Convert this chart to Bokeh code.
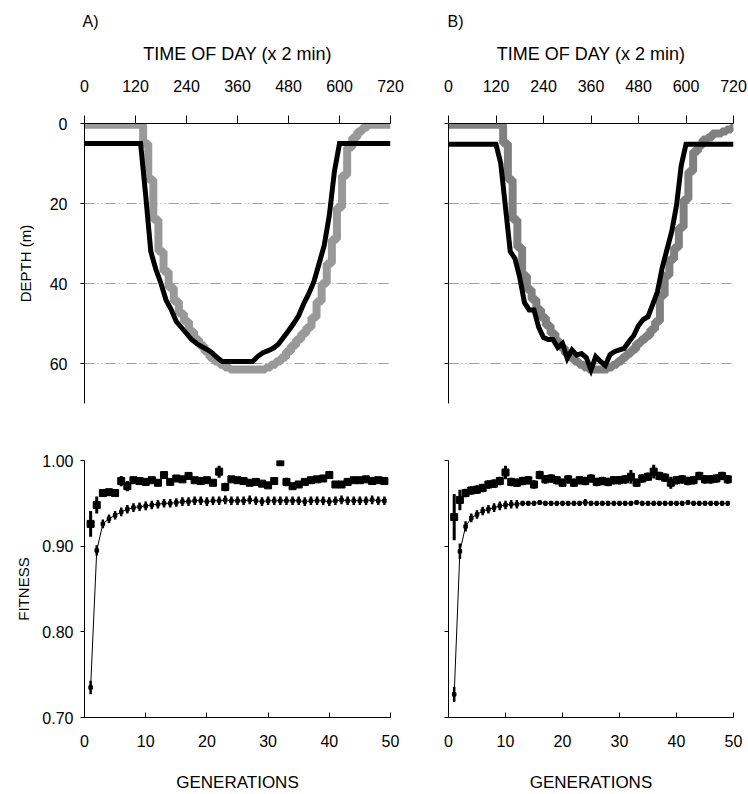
from bokeh.plotting import figure
from bokeh.layouts import column, row
from bokeh.models import FixedTicker, Range1d, PrintfTickFormatter
from bokeh.embed import file_html
from bokeh.resources import INLINE

# ---------------- data ----------------
time_ticks = [0, 120, 240, 360, 480, 600, 720]
depth_ticks = [0, 20, 40, 60]
time_of_day = list(range(0, 721, 12))  # sample times (x 2 min)

depth_best_A = [5, 5, 5, 5, 5, 5, 5, 5, 5, 5, 5, 5,
                18, 32, 36.5, 40, 44.2, 46.5, 49.5, 51, 52.5, 54,
                55, 55.8, 56.5, 57.3, 58.5, 59.5, 59.5, 59.5, 59.5, 59.5,
                59.5, 59.5, 58.2, 57.3, 56.8, 56.2, 55.2, 53.5, 51.8, 50,
                48, 45, 42.5, 39.5, 35, 30.5, 23, 12,
                5, 5, 5, 5, 5, 5, 5, 5, 5, 5, 5]
depth_pop_A = [0.3, 0.3, 0.3, 0.3, 0.3, 0.3, 0.3, 0.3, 0.3, 0.3, 0.3, 0.3,
               5, 14, 24, 32, 37, 41, 44.5, 47.5, 49.5, 52,
               54, 55.5, 57, 58.5, 59.5, 60.3, 61, 61.5, 61.5, 61.5,
               61.5, 61.5, 61.5, 61.5, 61, 60.3, 59.5, 58.5, 57, 55.5,
               54, 52.5, 51, 48.5, 44.5, 40, 35, 29, 21, 13,
               6, 3.5, 2, 1, 0.3, 0.3, 0.3, 0.3, 0.3]

depth_best_B = [5.2, 5.2, 5.2, 5.2, 5.2, 5.2, 5.2, 5.2, 5.2, 5.2, 5.2,
                10, 21, 32, 33.8, 38.5, 44.8, 46.6, 46.6, 51, 53.5,
                54, 54, 56, 55, 58.7, 56.6, 57.9, 57.5, 58.5, 61.6,
                58.3, 59.5, 60.5, 57.8, 57, 56.6, 56.2, 54.5, 53, 50.5,
                49, 48.3, 45.2, 42, 36, 31.5, 27, 20.5, 10.5,
                5.2, 5.2, 5.2, 5.2, 5.2, 5.2, 5.2, 5.2, 5.2, 5.2, 5.2]
depth_pop_B = [0.3, 0.3, 0.3, 0.3, 0.3, 0.3, 0.3, 0.3, 0.3, 0.3, 0.3, 0.3,
               5, 14, 24, 31, 38, 41.5, 44, 46.5, 48.5, 50.5,
               52.5, 54.5, 56, 57.5, 58.5, 59.5, 60.3, 61, 61.5, 61.5,
               61.5, 61.5, 61, 60.3, 59.5, 58.5, 57.5, 56.5, 55, 54,
               53, 51.5, 49.5, 43, 38, 34, 31, 26, 19, 12,
               7, 5.5, 4, 3.5, 2.5, 2.5, 2, 1.5, 1]

gen_ticks = [0, 10, 20, 30, 40, 50]
fit_ticks = [0.70, 0.80, 0.90, 1.00]
generations = list(range(1, 50))

fit_best_A = [0.926, 0.948, 0.962, 0.963, 0.962, 0.976, 0.970, 0.977, 0.976, 0.975,
              0.977, 0.974, 0.983, 0.975, 0.979, 0.978, 0.982, 0.977, 0.976, 0.977,
              0.974, 0.987, 0.969, 0.978, 0.977, 0.976, 0.974, 0.975, 0.973, 0.971,
              0.976, 0.998, 0.975, 0.970, 0.972, 0.975, 0.977, 0.978, 0.979, 0.983,
              0.972, 0.972, 0.975, 0.977, 0.977, 0.978, 0.976, 0.977, 0.976]
fit_best_A_err = [0.015, 0.010, 0.003, 0.003, 0.003, 0.006, 0.006, 0.004, 0.003, 0.003,
                  0.003, 0.003, 0.004, 0.004, 0.003, 0.003, 0.004, 0.003, 0.003, 0.003,
                  0.003, 0.007, 0.005, 0.003, 0.003, 0.003, 0.003, 0.003, 0.003, 0.003,
                  0.003, 0.003, 0.005, 0.003, 0.003, 0.003, 0.003, 0.003, 0.003, 0.003,
                  0.003, 0.003, 0.003, 0.003, 0.003, 0.003, 0.003, 0.003, 0.004]
fit_mean_A = [0.735, 0.895, 0.926, 0.932, 0.936, 0.940, 0.943, 0.945, 0.946, 0.947,
              0.948, 0.949, 0.950, 0.950, 0.951, 0.952, 0.952, 0.953, 0.953, 0.952,
              0.953, 0.953, 0.954, 0.953, 0.953, 0.953, 0.954, 0.953, 0.952, 0.953,
              0.953, 0.953, 0.953, 0.953, 0.953, 0.952, 0.953, 0.953, 0.953, 0.952,
              0.953, 0.954, 0.953, 0.953, 0.953, 0.953, 0.954, 0.953, 0.953]
fit_mean_A_err = [0.008, 0.006, 0.005, 0.005, 0.005, 0.005, 0.005, 0.005, 0.005, 0.005,
                  0.005, 0.005, 0.005, 0.005, 0.005, 0.005, 0.005, 0.005, 0.005, 0.005,
                  0.005, 0.005, 0.005, 0.005, 0.005, 0.005, 0.005, 0.005, 0.005, 0.005,
                  0.005, 0.005, 0.005, 0.005, 0.005, 0.005, 0.005, 0.005, 0.005, 0.005,
                  0.005, 0.005, 0.005, 0.005, 0.005, 0.005, 0.005, 0.005, 0.005]

fit_best_B = [0.934, 0.954, 0.962, 0.965, 0.966, 0.968, 0.972, 0.973, 0.976, 0.986,
              0.975, 0.974, 0.976, 0.977, 0.972, 0.983, 0.978, 0.979, 0.977, 0.974,
              0.978, 0.974, 0.977, 0.976, 0.979, 0.975, 0.976, 0.975, 0.977, 0.977,
              0.978, 0.981, 0.974, 0.979, 0.981, 0.987, 0.982, 0.980, 0.974, 0.977,
              0.978, 0.976, 0.977, 0.982, 0.978, 0.978, 0.979, 0.982, 0.978]
fit_best_B_err = [0.027, 0.012, 0.005, 0.005, 0.005, 0.005, 0.005, 0.005, 0.005, 0.008,
                  0.005, 0.005, 0.005, 0.005, 0.005, 0.005, 0.005, 0.005, 0.005, 0.005,
                  0.005, 0.005, 0.005, 0.005, 0.005, 0.005, 0.005, 0.005, 0.005, 0.005,
                  0.005, 0.008, 0.005, 0.005, 0.005, 0.008, 0.005, 0.005, 0.007, 0.005,
                  0.005, 0.005, 0.005, 0.005, 0.005, 0.005, 0.005, 0.005, 0.005]
fit_mean_B = [0.727, 0.894, 0.923, 0.933, 0.937, 0.941, 0.943, 0.945, 0.947, 0.948,
              0.949, 0.949, 0.950, 0.950, 0.950, 0.951, 0.950, 0.950, 0.950, 0.950,
              0.950, 0.950, 0.950, 0.951, 0.950, 0.950, 0.950, 0.950, 0.950, 0.950,
              0.950, 0.950, 0.951, 0.950, 0.950, 0.950, 0.950, 0.950, 0.950, 0.950,
              0.950, 0.951, 0.950, 0.950, 0.950, 0.950, 0.950, 0.950, 0.950]
fit_mean_B_err = [0.009, 0.009, 0.006, 0.005, 0.005, 0.005, 0.005, 0.005, 0.005, 0.005,
                  0.005, 0.005, 0.003, 0.003, 0.003, 0.003, 0.003, 0.003, 0.003, 0.003,
                  0.003, 0.003, 0.003, 0.004, 0.003, 0.003, 0.003, 0.003, 0.003, 0.003,
                  0.003, 0.003, 0.003, 0.003, 0.003, 0.003, 0.003, 0.003, 0.003, 0.003,
                  0.003, 0.003, 0.003, 0.003, 0.003, 0.003, 0.003, 0.003, 0.003]

FONT = "Liberation Sans"
TICK_FS = "16px"


def style_axis(ax, label_fs):
    ax.axis_label_text_font = FONT
    ax.axis_label_text_font_size = label_fs
    ax.axis_label_text_font_style = "normal"
    ax.axis_label_text_color = "black"
    ax.major_label_text_font = FONT
    ax.major_label_text_font_size = TICK_FS
    ax.major_label_text_color = "black"
    ax.axis_line_color = "black"
    ax.major_tick_line_color = "black"
    ax.minor_tick_line_color = None


def depth_panel(label, best, pop, pop_color, width, left, right, show_ylabels, label_dx):
    p = figure(width=width, height=430, x_range=Range1d(0, 720), y_range=Range1d(70, 0),
               x_axis_location="above", output_backend="svg", toolbar_location=None,
               min_border_left=left, min_border_right=right, min_border_top=122,
               min_border_bottom=27, title=label)
    p.outline_line_color = None
    p.background_fill_color = "white"
    p.border_fill_color = "white"
    p.title.align = "left"
    p.title.offset = label_dx
    p.title.standoff = 21
    p.title.text_font = FONT
    p.title.text_font_size = "16px"
    p.title.text_font_style = "normal"
    p.title.text_color = "black"

    xa = p.xaxis[0]
    style_axis(xa, "18px")
    xa.ticker = FixedTicker(ticks=time_ticks)
    xa.axis_label = "TIME OF DAY (x 2 min)"
    xa.major_tick_in = 0
    xa.major_tick_out = 8
    xa.major_label_standoff = 24
    xa.axis_label_standoff = 13

    ya = p.yaxis[0]
    style_axis(ya, "15px")
    ya.ticker = FixedTicker(ticks=depth_ticks)
    ya.major_tick_in = 0
    ya.major_tick_out = 4
    ya.major_label_standoff = 13
    if show_ylabels:
        ya.axis_label = "DEPTH (m)"
        ya.axis_label_standoff = 13
    else:
        ya.major_label_overrides = {t: "" for t in depth_ticks}

    p.xgrid.visible = False
    p.ygrid.ticker = FixedTicker(ticks=[20, 40, 60])
    p.ygrid.grid_line_color = "#a0a0a0"
    p.ygrid.grid_line_width = 1
    p.ygrid.grid_line_dash = "10 3 1 3 1 3"

    p.step(time_of_day, pop, mode="center", line_width=8, line_color=pop_color)
    p.line(time_of_day, best, line_width=5, line_color="black", line_join="miter")
    return p


def fitness_panel(best, best_err, mean, mean_err, width, left, right, show_ylabels):
    p = figure(width=width, height=364, x_range=Range1d(0, 50), y_range=Range1d(0.70, 1.00),
               output_backend="svg", toolbar_location=None,
               min_border_left=left, min_border_right=right, min_border_top=30,
               min_border_bottom=76)
    p.outline_line_color = None
    p.background_fill_color = "white"
    p.border_fill_color = "white"
    p.grid.visible = False

    xa = p.xaxis[0]
    style_axis(xa, "17px")
    xa.ticker = FixedTicker(ticks=gen_ticks)
    xa.axis_label = "GENERATIONS"
    xa.major_tick_in = 5
    xa.major_tick_out = 0
    xa.major_label_standoff = 17
    xa.axis_label_standoff = 23

    ya = p.yaxis[0]
    style_axis(ya, "15px")
    ya.ticker = FixedTicker(ticks=fit_ticks)
    ya.formatter = PrintfTickFormatter(format="%.2f")
    ya.major_tick_in = 0
    ya.major_tick_out = 4
    ya.major_label_standoff = 7
    if show_ylabels:
        ya.axis_label = "FITNESS"
        ya.axis_label_standoff = 7
    else:
        ya.major_label_overrides = {t: "" for t in fit_ticks}

    lo = [m - e for m, e in zip(mean, mean_err)]
    hi = [m + e for m, e in zip(mean, mean_err)]
    p.line(generations, mean, line_width=1, line_color="black")
    p.segment(generations, lo, generations, hi, line_width=2.5, line_color="black")
    p.scatter(generations, mean, marker="square", size=3.5, color="black")

    lo = [m - e for m, e in zip(best, best_err)]
    hi = [m + e for m, e in zip(best, best_err)]
    p.segment(generations, lo, generations, hi, line_width=3, line_color="black")
    p.scatter(generations, best, marker="square", size=7, color="black")
    return p


ta = depth_panel("A)", depth_best_A, depth_pop_A, "#999999", 410, 84, 20, True, -2)
tb = depth_panel("B)", depth_best_B, depth_pop_B, "#808080", 338, 38, 15, False, -1)
ba = fitness_panel(fit_best_A, fit_best_A_err, fit_mean_A, fit_mean_A_err, 410, 84, 20, True)
bb = fitness_panel(fit_best_B, fit_best_B_err, fit_mean_B, fit_mean_B_err, 338, 38, 15, False)

layout = column(row(ta, tb), row(ba, bb))

open("out.html", "w").write(file_html(layout, INLINE))
